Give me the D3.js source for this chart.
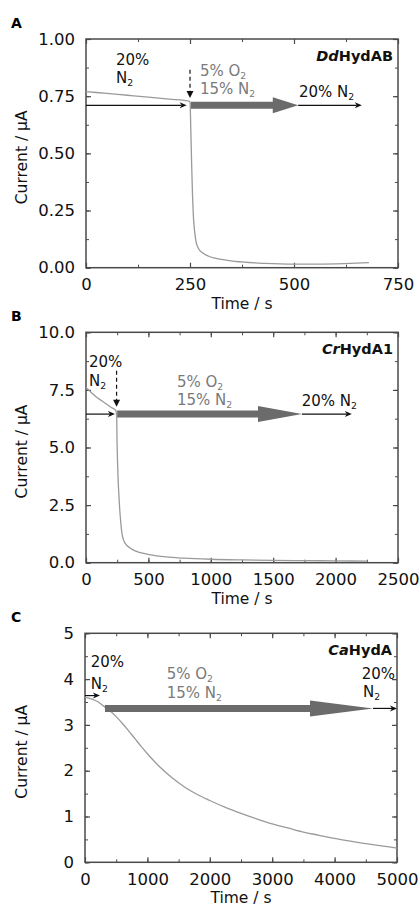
<!DOCTYPE html>
<html lang="en">
<head>
  <meta charset="UTF-8">
  <title>Current traces</title>
  <style>
    body { margin: 0; background: #fff; }
    svg text { font-family: "DejaVu Sans", sans-serif; }
  </style>
</head>
<body>
  <svg id="svg" width="420" height="908"></svg>
  <script src="https://d3js.org/d3.v7.min.js"></script>
  <script>
    // panel A: DdHydAB
    const timeA = [0, 50, 100, 150, 200, 245, 250, 252, 254, 256, 258, 261, 265, 270, 280, 295, 310, 340, 380, 430, 500, 560, 620, 680]
    const currentA = [0.770, 0.762, 0.754, 0.746, 0.737, 0.729, 0.725, 0.60, 0.45, 0.32, 0.23, 0.16, 0.11, 0.085, 0.065, 0.05, 0.042, 0.032, 0.024, 0.019, 0.016, 0.016, 0.018, 0.022]
    // panel B: CrHydA1
    const timeB = [0, 40, 80, 120, 160, 200, 240, 246, 249, 252, 256, 260, 268, 276, 286, 300, 320, 350, 400, 480, 600, 780, 1000, 1250, 1500, 1750, 2000, 2250]
    const currentB = [7.6, 7.4, 7.2, 7.05, 6.9, 6.75, 6.6, 6.3, 5.2, 4.5, 3.8, 3.3, 2.5, 1.9, 1.35, 1.0, 0.8, 0.65, 0.5, 0.38, 0.27, 0.2, 0.15, 0.12, 0.1, 0.09, 0.08, 0.07]
    // panel C: CaHydA
    const timeC = [0, 100, 200, 250, 300, 400, 500, 600, 700, 800, 900, 1000, 1200, 1400, 1600, 1800, 2000, 2250, 2500, 2750, 3000, 3250, 3500, 3750, 4000, 4250, 4500, 4750, 5000]
    const currentC = [3.60, 3.57, 3.51, 3.46, 3.41, 3.31, 3.18, 3.03, 2.87, 2.70, 2.53, 2.37, 2.08, 1.84, 1.64, 1.48, 1.35, 1.2, 1.07, 0.95, 0.84, 0.75, 0.66, 0.59, 0.52, 0.46, 0.41, 0.36, 0.31]

    // gas phase arrows: [start, head start, end, level]
    const gasArrowA = [252, 449, 510, 0.71]
    const gasArrowB = [250, 1378, 1730, 6.45]
    const gasArrowC = [320, 3606, 4615, 3.36]
    // thin black N2 arrows: [start, end, level]
    const n2ArrowsA = [[0, 242, 0.71], [510, 663, 0.71]]
    const n2ArrowsB = [[0, 232, 6.45], [1730, 2130, 6.45]]
    const n2ArrowsC = [[0, 240, 3.64], [4615, 5000, 3.36]]
    // dashed injection arrows: [time, from, to]
    const dashA = [250, 0.865, 0.742]
    const dashB = [245, 8.33, 6.77]
    const dashC = null

    // labels: [text, time, current, colour, anchor]  ("_" marks a subscript)
    const labelsA = [
      ['20%', 72, 0.886, 'black', 'start'], ['N_2', 72, 0.808, 'black', 'start'],
      ['5% O_2', 274, 0.84, 'gray', 'start'], ['15% N_2', 274, 0.76, 'gray', 'start'],
      ['20% N_2', 512, 0.746, 'black', 'start']
    ]
    const labelsB = [
      ['20%', 24, 8.5, 'black', 'start'], ['N_2', 24, 7.67, 'black', 'start'],
      ['5% O_2', 729, 7.62, 'gray', 'start'], ['15% N_2', 729, 6.84, 'gray', 'start'],
      ['20% N_2', 1728, 6.8, 'black', 'start']
    ]
    const labelsC = [
      ['20%', 91, 4.27, 'black', 'start'], ['N_2', 91, 3.78, 'black', 'start'],
      ['5% O_2', 1310, 4.0, 'gray', 'start'], ['15% N_2', 1310, 3.59, 'gray', 'start'],
      ['20%', 4970, 4.0, 'black', 'end'], ['N_2', 4457, 3.6, 'black', 'start']
    ]
    const enzymes = [['Dd', 'HydAB'], ['Cr', 'HydA1'], ['Ca', 'HydA']]

    const svg = d3.select('#svg')
    const frameColor = '#4a4a4a'

    function addLabel(g, str, x, y, fill, anchor, size) {
      const t = g.append('text')
        .attr('x', x).attr('y', y)
        .attr('fill', fill)
        .attr('text-anchor', anchor)
        .style('font-size', size + 'px')
      str.split('_').forEach((part, i) => {
        if (i === 0) {
          t.append('tspan').text(part)
        } else {
          t.append('tspan').text(part[0]).attr('dy', 3).style('font-size', (size * 0.62) + 'px')
          if (part.length > 1) t.append('tspan').text(part.slice(1)).attr('dy', -3)
        }
      })
    }

    function drawPanel(p) {
      const x = d3.scaleLinear().domain(p.xDomain).range([p.left, p.right])
      const y = d3.scaleLinear().domain(p.yDomain).range([p.bottom, p.top])
      const g = svg.append('g')

      // ticks (inside, on all four sides)
      const xMinor = d3.range(p.xDomain[0], p.xDomain[1] + 1e-9, p.xStep / 2)
      const yMinor = d3.range(p.yDomain[0], p.yDomain[1] + 1e-9, p.yStep / 2)
      const xMajor = d3.range(p.xDomain[0], p.xDomain[1] + 1e-9, p.xStep)
      const yMajor = d3.range(p.yDomain[0], p.yDomain[1] + 1e-9, p.yStep)

      const axes = [
        [d3.axisBottom(x).tickValues(xMajor).tickFormat(d3.format('d')), `translate(0,${p.bottom})`, true],
        [d3.axisTop(x).tickValues(xMajor).tickFormat(''), `translate(0,${p.top})`, false],
        [d3.axisLeft(y).tickValues(yMajor).tickFormat(d3.format(p.yFormat)), `translate(${p.left},0)`, true],
        [d3.axisRight(y).tickValues(yMajor).tickFormat(''), `translate(${p.right},0)`, false]
      ]
      axes.forEach(([ax, tr, labels]) => {
        const a = g.append('g').attr('transform', tr)
          .call(ax.tickSizeInner(-5).tickSizeOuter(0).tickPadding(labels ? 11 : 0))
        a.select('.domain').remove()
        a.selectAll('line').attr('stroke', frameColor).attr('stroke-width', 1.2)
        a.selectAll('text').style('font-size', '16.5px').attr('fill', '#111')
          .style('font-family', '"DejaVu Sans", sans-serif')
      })
      const minors = [
        [d3.axisBottom(x).tickValues(xMinor), `translate(0,${p.bottom})`],
        [d3.axisTop(x).tickValues(xMinor), `translate(0,${p.top})`],
        [d3.axisLeft(y).tickValues(yMinor), `translate(${p.left},0)`],
        [d3.axisRight(y).tickValues(yMinor), `translate(${p.right},0)`]
      ]
      minors.forEach(([ax, tr]) => {
        const a = g.append('g').attr('transform', tr)
          .call(ax.tickSizeInner(-3).tickSizeOuter(0).tickFormat(''))
        a.select('.domain').remove()
        a.selectAll('line').attr('stroke', frameColor).attr('stroke-width', 1)
      })

      g.append('rect')
        .attr('x', p.left).attr('y', p.top)
        .attr('width', p.right - p.left).attr('height', p.bottom - p.top)
        .attr('fill', 'none').attr('stroke', frameColor).attr('stroke-width', 1.5)

      // current trace
      const pts = p.time.map((t, i) => [t, p.current[i]])
      g.append('path')
        .datum(pts)
        .attr('d', d3.line().x(d => x(d[0])).y(d => y(d[1])).curve(d3.curveMonotoneX))
        .attr('fill', 'none').attr('stroke', '#9a9a9a').attr('stroke-width', 1.3)

      // gas phase (thick gray) arrow
      const [a0, ah, a1, lv] = p.gas
      const cy = y(lv)
      g.append('path')
        .attr('d', `M${x(a0)},${cy - 3.5}L${x(ah)},${cy - 3.5}L${x(ah)},${cy - 8}L${x(a1)},${cy}` +
          `L${x(ah)},${cy + 8}L${x(ah)},${cy + 3.5}L${x(a0)},${cy + 3.5}Z`)
        .attr('fill', '#6b6b6b')

      // thin black arrows
      p.n2.forEach(([s, e, l]) => {
        const yy = y(l)
        g.append('line')
          .attr('x1', x(s)).attr('x2', x(e) - 5).attr('y1', yy).attr('y2', yy)
          .attr('stroke', '#111').attr('stroke-width', 1.2)
        g.append('path')
          .attr('d', `M${x(e)},${yy}L${x(e) - 7},${yy - 3}L${x(e) - 5},${yy}L${x(e) - 7},${yy + 3}Z`)
          .attr('fill', '#111')
      })

      // dashed injection arrow
      if (p.dash) {
        const [t, from, to] = p.dash
        const xx = x(t)
        g.append('line')
          .attr('x1', xx).attr('x2', xx).attr('y1', y(from)).attr('y2', y(to) - 6)
          .attr('stroke', '#111').attr('stroke-width', 1.2).attr('stroke-dasharray', '4,3')
        g.append('path')
          .attr('d', `M${xx - 3.5},${y(to) - 7}L${xx + 3.5},${y(to) - 7}L${xx},${y(to)}Z`)
          .attr('fill', '#111')
      }

      p.labels.forEach(([str, t, c, col, anchor]) => {
        addLabel(g, str, x(t), y(c), col === 'gray' ? '#7a7a7a' : '#111', anchor, 15)
      })

      // enzyme name
      const en = g.append('text')
        .attr('x', p.right - 5).attr('y', p.top + 22)
        .attr('text-anchor', 'end')
        .style('font-size', '14.5px').style('font-weight', 'bold').attr('fill', '#111')
      en.append('tspan').text(p.enzyme[0]).style('font-style', 'italic')
      en.append('tspan').text(p.enzyme[1])

      // panel letter and axis titles
      g.append('text').attr('x', 11).attr('y', p.top - 11)
        .style('font-size', '14px').style('font-weight', 'bold').text(p.letter)
      g.append('text')
        .attr('x', (p.left + p.right) / 2).attr('y', p.bottom + 41)
        .attr('text-anchor', 'middle').style('font-size', '15.5px').attr('fill', '#111')
        .text('Time / s')
      g.append('text')
        .attr('transform', `translate(27,${(p.top + p.bottom) / 2 + 4}) rotate(-90)`)
        .attr('text-anchor', 'middle').style('font-size', '15.5px').attr('fill', '#111')
        .text('Current / µA')
    }

    drawPanel({
      letter: 'A', left: 86, right: 398, top: 39, bottom: 267.7,
      xDomain: [0, 750], xStep: 250, yDomain: [0, 1], yStep: 0.25, yFormat: '.2f',
      time: timeA, current: currentA, gas: gasArrowA, n2: n2ArrowsA, dash: dashA,
      labels: labelsA, enzyme: enzymes[0]
    })
    drawPanel({
      letter: 'B', left: 86, right: 398, top: 332.3, bottom: 562.7,
      xDomain: [0, 2500], xStep: 500, yDomain: [0, 10], yStep: 2.5, yFormat: '.1f',
      time: timeB, current: currentB, gas: gasArrowB, n2: n2ArrowsB, dash: dashB,
      labels: labelsB, enzyme: enzymes[1]
    })
    drawPanel({
      letter: 'C', left: 85, right: 397, top: 633.3, bottom: 862.3,
      xDomain: [0, 5000], xStep: 1000, yDomain: [0, 5], yStep: 1, yFormat: 'd',
      time: timeC, current: currentC, gas: gasArrowC, n2: n2ArrowsC, dash: dashC,
      labels: labelsC, enzyme: enzymes[2]
    })
  </script>
</body>
</html>
